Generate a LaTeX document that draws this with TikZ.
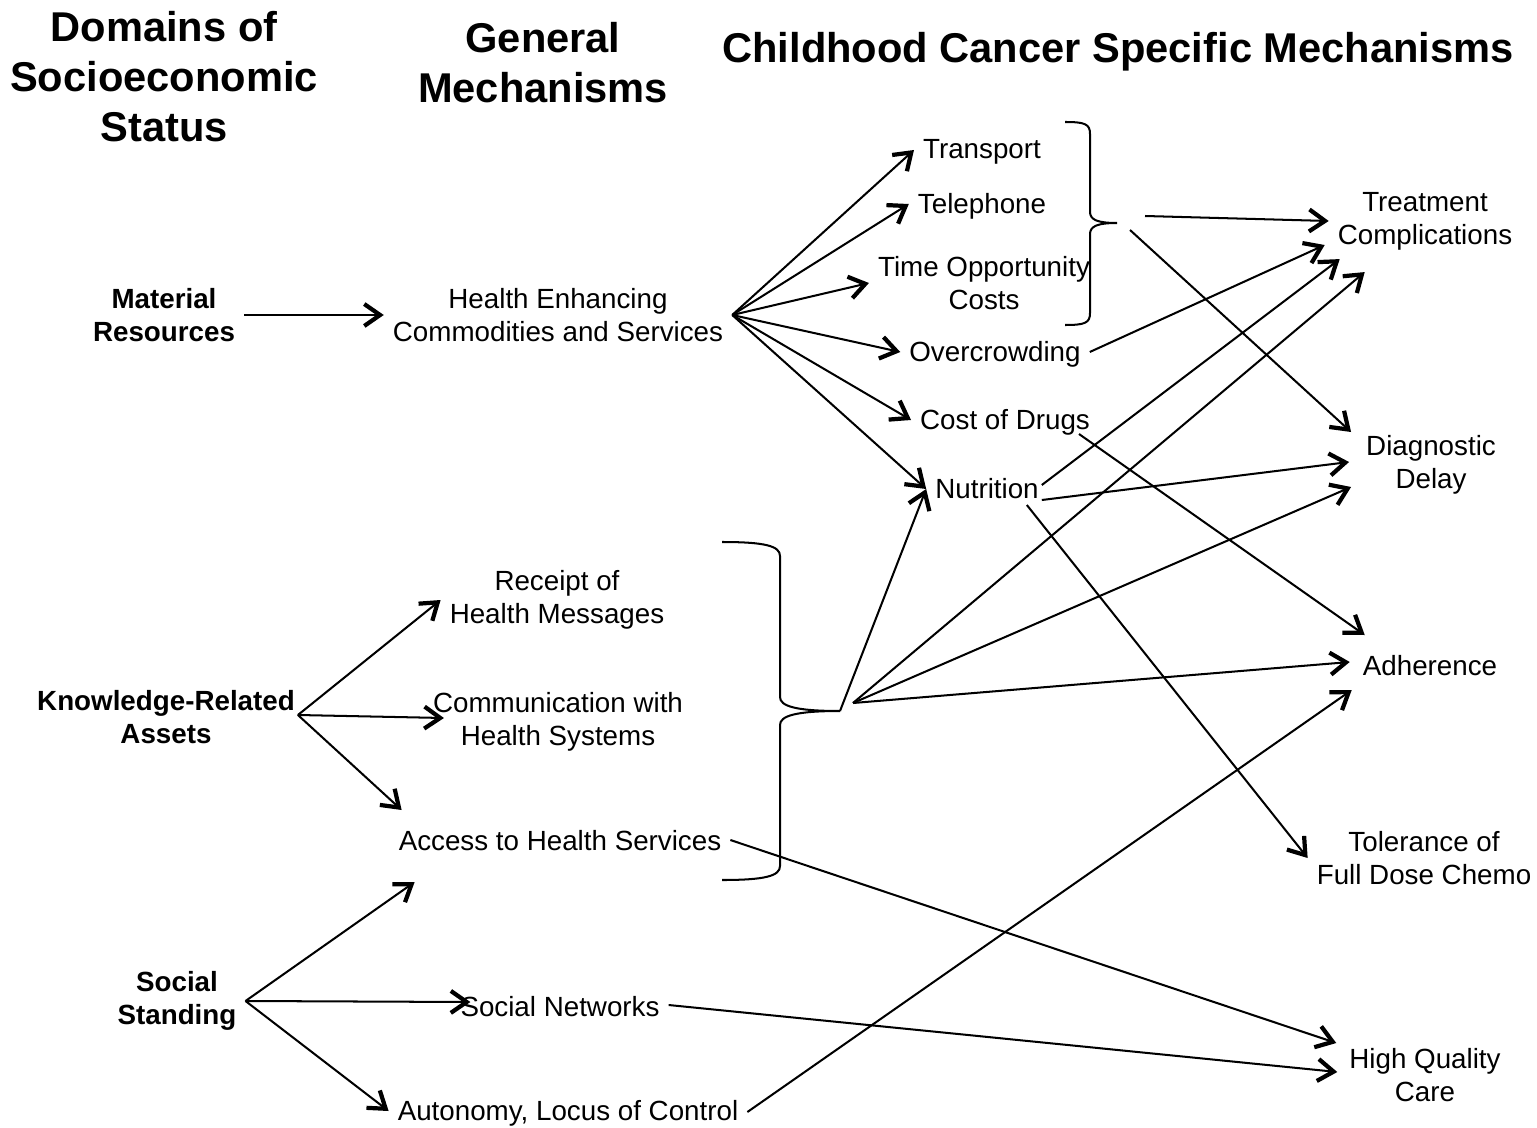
\documentclass[tikz,border=0pt]{standalone}
\usepackage{fontspec}
\setmainfont{Liberation Sans}
\usepackage{tikz}
\usetikzlibrary{arrows,arrows.meta,positioning,calc}

\begin{document}
\begin{tikzpicture}[x = .02cm, y = -.02cm,
  every node/.style = {inner sep=5pt, align=center, font=\fontsize{15.8}{18.8}\selectfont},
  lab/.style = {font=\fontsize{15.8}{18.8}\selectfont\bfseries},
  head/.style = {font=\fontsize{23.7}{28.5}\selectfont\bfseries},
  arr/.style = {-{Straight Barb[length=9pt,width=12.5pt,line width=2.4pt]}, line width=1.15pt},
  brc/.style = {line width=1.15pt}]
\useasboundingbox (0,0) rectangle (1537,1128);

\node[head] (t1) at (164, 77) {Domains of\\Socioeconomic\\Status};
\node[head] (t2) at (543, 63) {General\\Mechanisms};
\node[head] (t3) at (1118, 52) {Childhood Cancer Specific Mechanisms};

\node[lab] (mat) at (164, 315) {Material\\Resources};
\node[lab] (know) at (166, 717) {Knowledge-Related\\Assets};
\node[lab] (soc) at (177, 1001) {Social\\Standing};

\node (hec) at (558, 315) {Health Enhancing\\Commodities and Services};
\node (rhm) at (557, 600) {Receipt of\\Health Messages};
\node (chs) at (558, 722) {Communication with\\Health Systems};
\node (ahs) at (560, 841) {Access to Health Services};
\node (sn) at (560, 1007) {Social Networks};
\node (alc) at (568, 1113) {Autonomy, Locus of Control};

\node (tr) at (982, 152) {Transport};
\node (tel) at (982, 206) {Telephone};
\node (toc) at (984, 283) {Time Opportunity\\Costs};
\node (ovc) at (995, 354) {Overcrowding};
\node (cod) at (1005, 422) {Cost of Drugs};
\node (nut) at (987, 489) {Nutrition};

\node (tc) at (1425, 221) {Treatment\\Complications};
\node (dd) at (1431, 465) {Diagnostic\\Delay};
\node (adh) at (1430, 666) {Adherence};
\node (tol) at (1424, 858) {Tolerance of\\Full Dose Chemo};
\node (hqc) at (1425, 1075) {High Quality\\Care};

\draw[brc] (1065,122) .. controls (1085,122) and (1090,124) .. (1090,134) -- (1090,212)
  .. controls (1090,220) and (1098,223) .. (1117,223) .. controls (1098,223) and (1090,226) .. (1090,234)
  -- (1090,313) .. controls (1090,323) and (1085,325) .. (1065,325);
\draw[brc] (722,542) .. controls (765,542) and (780,546) .. (780,556) -- (780,697)
  .. controls (780,706) and (795,711) .. (840,711) .. controls (795,711) and (780,716) .. (780,725)
  -- (780,866) .. controls (780,876) and (765,880) .. (722,880);

\coordinate (ua) at (1145, 216);
\coordinate (ub) at (1130, 230);
\coordinate (kt) at (840, 711);
\coordinate (kb) at (853, 703);
\coordinate (ko) at ($(know.east)+(-6,-2)$);

\draw[arr] (mat) -- (hec);
\draw[arr] (ko) -- (rhm.west);
\draw[arr] (ko) -- ($(chs.west)+(20,-4)$);
\draw[arr] (ko) -- ($(ahs.west)+(12,-31)$);
\draw[arr] (soc.east) -- ($(ahs.west)+(25,41)$);
\draw[arr] (soc.east) -- ($(sn.west)+(19,-5)$);
\draw[arr] (soc.east) -- ($(alc.west)+(0,-2)$);

\draw[arr] (hec.east) -- ($(tr.west)+(0,-2)$);
\draw[arr] (hec.east) -- ($(tel.west)+(0,-2)$);
\draw[arr] (hec.east) -- (toc.west);
\draw[arr] (hec.east) -- ($(ovc.west)+(0,-2)$);
\draw[arr] (hec.east) -- ($(cod.west)+(0,-2)$);
\draw[arr] (hec.east) -- (nut.west);
\draw[arr] (kt) -- (nut.west);

\draw[arr] (ua) -- (tc.west);
\draw[arr] (ub) -- ($(dd.west)+(-6,-33)$);
\draw[arr] ($(ovc.east)+(0,-2)$) -- ($(tc.west)+(-4,24)$);
\draw[arr] ($(nut.east)+(-6,-4)$) -- ($(tc.south west)+(11,0)$);
\draw[arr] ($(nut.east)+(-6,11)$) -- ($(dd.west)+(-8,-3)$);
\draw[arr] ($(nut.east)+(-21,16)$) -- (tol.west);
\draw[arr] ($(cod.east)+(-20,12)$) -- ($(adh.west)+(11,-31)$);

\draw[arr] (kb) -- ($(tc.south west)+(36,13)$);
\draw[arr] (kb) -- ($(dd.west)+(-6,22)$);
\draw[arr] (kb) -- ($(adh.west)+(-4,-4)$);
\draw[arr] ($(alc.east)+(0,-1)$) -- ($(adh.west)+(-2,24)$);
\draw[arr] ($(ahs.east)+(0,-1)$) -- ($(hqc.west)+(-4,-32)$);
\draw[arr] ($(sn.east)+(0,-2)$) -- ($(hqc.west)+(-3,-3)$);

\end{tikzpicture}
\end{document}
